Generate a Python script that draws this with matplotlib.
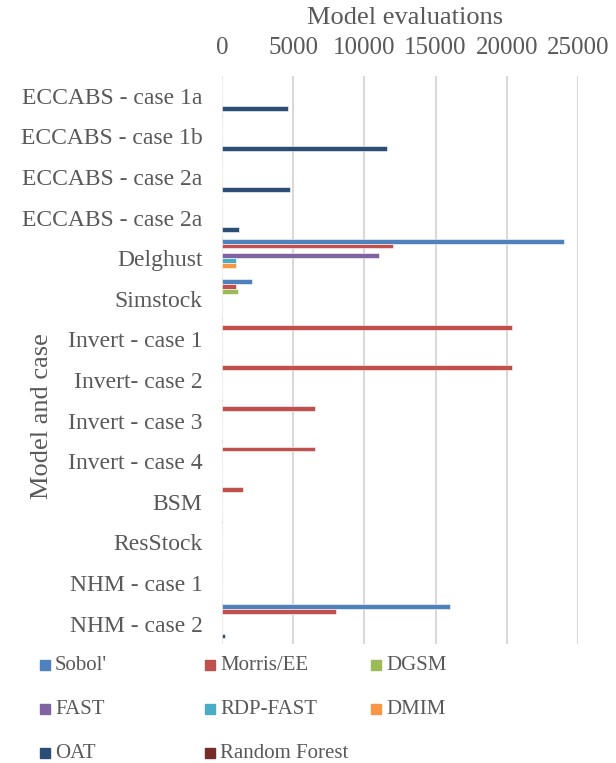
import matplotlib.pyplot as plt
from matplotlib.patches import Rectangle
import numpy as np

# Data
categories = ['ECCABS - case 1a', 'ECCABS - case 1b', 'ECCABS - case 2a', 'ECCABS - case 2a',
              'Delghust', 'Simstock', 'Invert - case 1', 'Invert- case 2', 'Invert - case 3',
              'Invert - case 4', 'BSM', 'ResStock', 'NHM - case 1', 'NHM - case 2']
methods = ["Sobol'", 'Morris/EE', 'DGSM', 'FAST', 'RDP-FAST', 'DMIM', 'OAT', 'Random Forest']

sobol = [0, 0, 0, 0, 24000, 2100, 0, 0, 0, 0, 0, 0, 0, 16000]
morris = [0, 0, 0, 0, 12000, 1000, 20400, 20400, 6500, 6500, 1500, 0, 0, 8000]
dgsm = [0, 0, 0, 0, 0, 1100, 0, 0, 0, 0, 0, 0, 0, 0]
fast = [0, 0, 0, 0, 11000, 0, 0, 0, 0, 0, 0, 0, 0, 0]
rdp_fast = [0, 0, 0, 0, 1000, 0, 0, 0, 0, 0, 0, 0, 0, 0]
dmim = [0, 0, 0, 0, 1000, 0, 0, 0, 0, 0, 0, 0, 0, 0]
oat = [4600, 11600, 4800, 1200, 0, 0, 0, 0, 0, 0, 0, 0, 0, 200]
random_forest = [0, 0, 0, 0, 0, 0, 0, 0, 0, 0, 0, 0, 0, 0]

series = [sobol, morris, dgsm, fast, rdp_fast, dmim, oat, random_forest]
colors = ['#4F81BD', '#C0504D', '#9BBB59', '#8064A2', '#4BACC6', '#F79646', '#2C4D75', '#772C2A']

text_color = '#595959'
plt.rcParams['font.family'] = ['Liberation Serif', 'DejaVu Serif']

fig = plt.figure(figsize=(6.16, 7.63), dpi=100)
ax = fig.add_axes([222 / 616, 1 - 644 / 763, (578 - 222) / 616, (644 - 75.5) / 763])

y = np.arange(len(categories))
bar_h = 0.966 / len(series)
for i, (vals, col) in enumerate(zip(series, colors)):
    offs = -0.483 + (i + 0.5) * bar_h
    ax.barh(y + offs, vals, height=bar_h, color=col, edgecolor='white', linewidth=0.4)

ax.set_xlim(0, 25000)
ax.set_ylim(len(categories) - 0.5, -0.5)
ax.set_xticks(np.arange(0, 25001, 5000))
ax.xaxis.tick_top()
ax.tick_params(axis='x', length=0, pad=12, labelsize=18, labelcolor=text_color)
ax.set_yticks(y)
ax.set_yticklabels(categories)
ax.tick_params(axis='y', length=0, pad=14, labelsize=17, labelcolor=text_color)

ax.grid(axis='x', color='#D9D9D9', linewidth=1.5)
ax.set_axisbelow(True)
for s in ax.spines.values():
    s.set_visible(False)

fig.text(405 / 616, 1 - 18 / 763, 'Model evaluations', ha='center', va='center',
         fontsize=19, color=text_color)
fig.text(42 / 616, 1 - 416 / 763, 'Model and case', ha='center', va='center',
         rotation=90, fontsize=19, color=text_color)

# Legend, 3 columns
col_x = [40, 205, 371]
row_y = [665, 709, 753]
for i, (name, col) in enumerate(zip(methods, colors)):
    cx = col_x[i % 3]
    cy = row_y[i // 3]
    fig.add_artist(Rectangle((cx / 616, 1 - (cy + 5) / 763), 10 / 616, 10 / 763,
                             transform=fig.transFigure, color=col))
    fig.text((cx + 15) / 616, 1 - cy / 763, name, ha='left', va='center',
             fontsize=15, color=text_color)

fig.savefig('out.png', dpi=100)
